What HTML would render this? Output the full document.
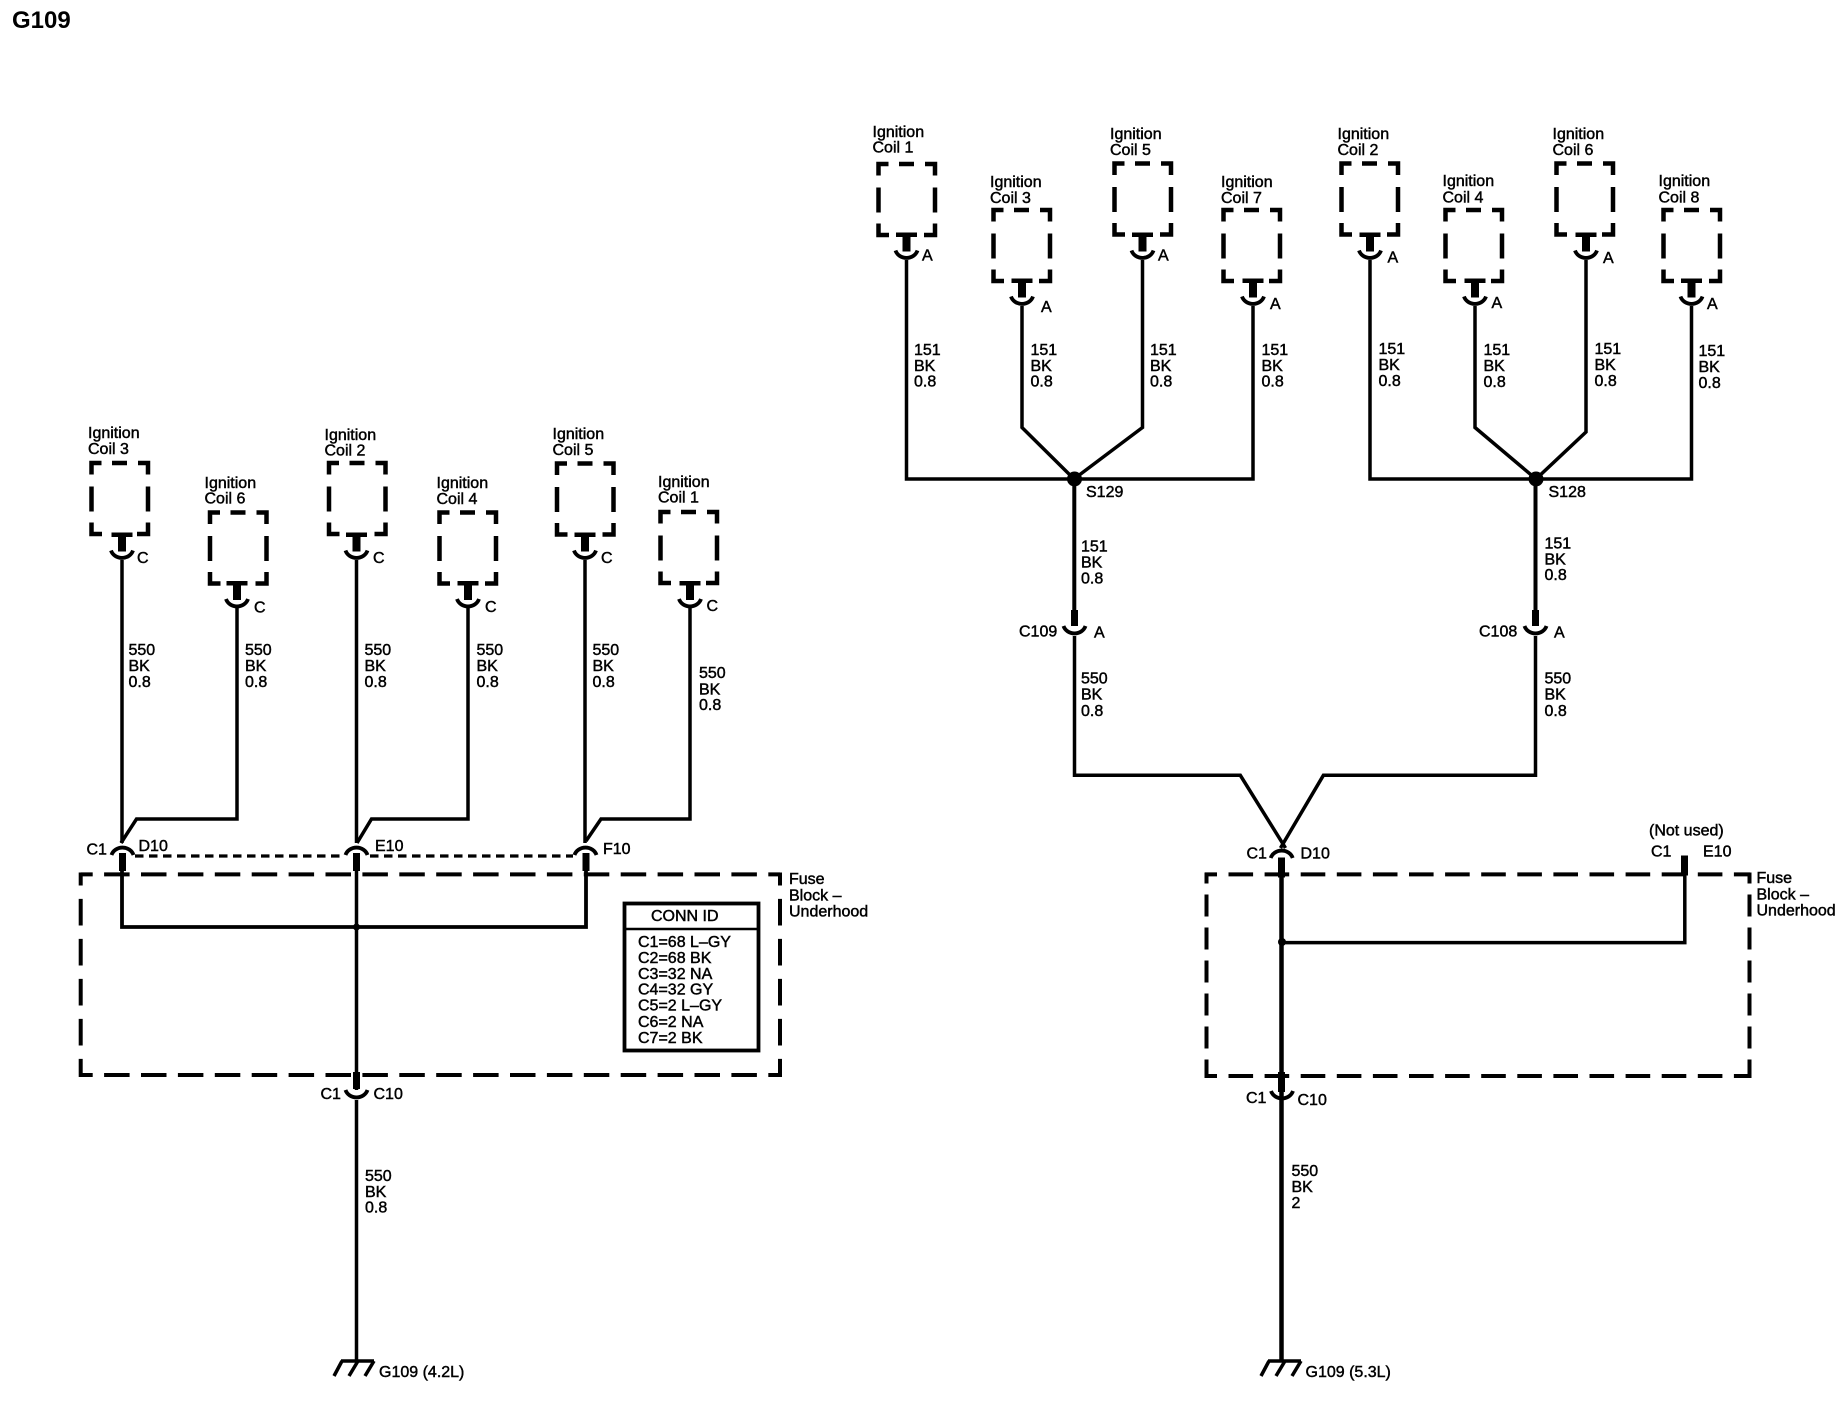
<!DOCTYPE html>
<html lang="en">
<head>
<meta charset="utf-8">
<title>G109</title>
<style>
html,body{margin:0;padding:0;background:#fff}
svg{display:block}
text{font-family:"Liberation Sans",Arial,sans-serif;font-size:16px;fill:#000;stroke:#000;stroke-width:.45}
.w{fill:none;stroke:#000;stroke-width:3.5;stroke-linejoin:miter}
</style>
</head>
<body>
<svg xmlns="http://www.w3.org/2000/svg" width="1844" height="1408" viewBox="0 0 1844 1408">
<defs>
<g id="b"><path d="M1.5 13V1.500H11.500M22 1.500H37M48 1.500H58V13M1.5 25V50M58 25V50M1.5 61V72.500H12M47 72.500H58V61" fill="none" stroke="#000" stroke-width="4.500"/></g>
<g id="c"><rect x="-10.500" y="0" width="21" height="4.500"/><rect x="-4" y="0" width="8" height="19"/><path d="M-11 18A11.500 10.500 0 0 0 11 18" fill="none" stroke="#000" stroke-width="3.800"/></g>
<g id="u"><path d="M-11 0A11.500 10.500 0 0 1 11 0" fill="none" stroke="#000" stroke-width="3.800"/></g>
<g id="d"><path d="M-11 0A11.500 10.500 0 0 0 11 0" fill="none" stroke="#000" stroke-width="3.800"/></g>
<g id="g"><path d="M-16 0H17M-15 0L-23 15M1 0L-8 15M17 0L8 15" fill="none" stroke="#000" stroke-width="3.500"/></g>
</defs>

<text x="12" y="28" style="font-size:24px;font-weight:bold;stroke:none">G109</text>

<!-- LEFT: coils -->
<use href="#b" x="90" y="461.500"/><use href="#c" x="122" y="532.500"/>
<use href="#b" x="208.500" y="511"/><use href="#c" x="237" y="581"/>
<use href="#b" x="327.500" y="461.500"/><use href="#c" x="356.500" y="532.500"/>
<use href="#b" x="438" y="511"/><use href="#c" x="468" y="581"/>
<use href="#b" x="555.500" y="462"/><use href="#c" x="585" y="532.500"/>
<use href="#b" x="659" y="510.500"/><use href="#c" x="690" y="581"/>

<!-- LEFT: wires -->
<path class="w" d="M122 560V843"/>
<path class="w" d="M356.500 560V843"/>
<path class="w" d="M585 560V843"/>
<path class="w" d="M237 608V819H136.500L121 843"/>
<path class="w" d="M468 608V819H371.500L357 843"/>
<path class="w" d="M690 608V819H601L586 841"/>
<use href="#u" x="122.500" y="855"/><use href="#u" x="356.500" y="855"/><use href="#u" x="585.500" y="855"/>
<rect x="119" y="853" width="7" height="18"/><rect x="353" y="853" width="7" height="18"/><rect x="582.500" y="853" width="7" height="18"/>
<path d="M135 856H345M370 856H573" fill="none" stroke="#000" stroke-width="3.200" stroke-dasharray="8.500 5.500"/>
<path class="w" d="M122 870V927H586V870" style="stroke-width:3.800"/>
<path class="w" d="M356.500 870V1090"/>
<circle cx="356.500" cy="927" r="3.500"/>
<rect x="353" y="1072" width="7" height="17"/>
<use href="#d" x="356.500" y="1090"/>
<path class="w" d="M356.500 1100V1361"/>
<use href="#g" x="357" y="1361"/>

<!-- LEFT: fuse block -->
<path d="M80.700 874.400H780" fill="none" stroke="#000" stroke-width="4" stroke-dasharray="25.500 11.400" stroke-dashoffset="13.500"/>
<path d="M80.700 1075H781" fill="none" stroke="#000" stroke-width="4" stroke-dasharray="25.500 11.400" stroke-dashoffset="13.500"/>
<path d="M80.700 872.500V1077" fill="none" stroke="#000" stroke-width="4" stroke-dasharray="26.600 13.400" stroke-dashoffset="13.600"/>
<path d="M780 872.500V1077" fill="none" stroke="#000" stroke-width="4" stroke-dasharray="26.600 13.400" stroke-dashoffset="13.600"/>

<!-- LEFT: conn id -->
<rect x="624.500" y="903.500" width="134" height="147" fill="#fff" stroke="#000" stroke-width="3.800"/>
<path d="M624.500 929H758.500" stroke="#000" stroke-width="2.500"/>
<text x="651" y="921">CONN ID</text>
<text x="638" y="947">C1=68 L–GY</text>
<text x="638" y="963">C2=68 BK</text>
<text x="638" y="979">C3=32 NA</text>
<text x="638" y="994.500">C4=32 GY</text>
<text x="638" y="1010.500">C5=2 L–GY</text>
<text x="638" y="1027">C6=2 NA</text>
<text x="638" y="1043">C7=2 BK</text>

<!-- LEFT: labels -->
<text x="88" y="438">Ignition</text><text x="88" y="454">Coil 3</text><text x="137" y="563">C</text>
<text x="204.500" y="488">Ignition</text><text x="204.500" y="503.500">Coil 6</text><text x="254" y="612.500">C</text>
<text x="324.500" y="440">Ignition</text><text x="324.500" y="455.500">Coil 2</text><text x="373" y="563">C</text>
<text x="436.500" y="488">Ignition</text><text x="436.500" y="504">Coil 4</text><text x="485" y="612">C</text>
<text x="552.500" y="439">Ignition</text><text x="552.500" y="455">Coil 5</text><text x="601" y="563">C</text>
<text x="658" y="487">Ignition</text><text x="658" y="502.500">Coil 1</text><text x="706.500" y="611">C</text>

<text x="128.500" y="655">550</text><text x="128.500" y="671">BK</text><text x="128.500" y="687">0.8</text>
<text x="245" y="655">550</text><text x="245" y="671">BK</text><text x="245" y="687">0.8</text>
<text x="364.500" y="655">550</text><text x="364.500" y="671">BK</text><text x="364.500" y="687">0.8</text>
<text x="476.500" y="655">550</text><text x="476.500" y="671">BK</text><text x="476.500" y="687">0.8</text>
<text x="592.500" y="655">550</text><text x="592.500" y="671">BK</text><text x="592.500" y="687">0.8</text>
<text x="699" y="678">550</text><text x="699" y="694.500">BK</text><text x="699" y="710">0.8</text>

<text x="86.500" y="854.500">C1</text><text x="138.500" y="851">D10</text><text x="375" y="851">E10</text><text x="603" y="854">F10</text>
<text x="789" y="884">Fuse</text><text x="789" y="900.500">Block –</text><text x="789" y="916.500">Underhood</text>
<text x="320.500" y="1099">C1</text><text x="373.500" y="1099">C10</text>
<text x="365" y="1181">550</text><text x="365" y="1197">BK</text><text x="365" y="1212.500">0.8</text>
<text x="379" y="1377">G109 (4.2L)</text>

<!-- RIGHT: coils -->
<use href="#b" x="877" y="162.500"/><use href="#c" x="906.500" y="232.500"/>
<use href="#b" x="992" y="208.500"/><use href="#c" x="1022" y="278.500"/>
<use href="#b" x="1113" y="162"/><use href="#c" x="1142.500" y="232.500"/>
<use href="#b" x="1222" y="208.500"/><use href="#c" x="1253" y="278.500"/>
<use href="#b" x="1340" y="162"/><use href="#c" x="1370" y="232.500"/>
<use href="#b" x="1444" y="208.500"/><use href="#c" x="1475" y="278.500"/>
<use href="#b" x="1555" y="162"/><use href="#c" x="1586" y="232.500"/>
<use href="#b" x="1662" y="208.500"/><use href="#c" x="1691.500" y="278.500"/>

<!-- RIGHT: wires -->
<path class="w" d="M906.500 260V479H1253V306"/>
<path class="w" d="M1022 306V427.500L1074 479L1142.500 427.500V260"/>
<circle cx="1074.500" cy="479" r="7.500"/>
<path class="w" d="M1370 260V479H1691.500V306"/>
<path class="w" d="M1475 306V427.500L1536 479L1586 432V260"/>
<circle cx="1536" cy="479" r="7.500"/>
<path class="w" d="M1074.300 479V612" style="stroke-width:4"/>
<path class="w" d="M1535.500 479V612" style="stroke-width:4"/>
<rect x="1071" y="610" width="7" height="16"/>
<rect x="1532" y="610" width="7" height="16"/>
<use href="#d" x="1074.500" y="626"/><use href="#d" x="1535.500" y="626"/>
<path class="w" d="M1074.500 636V775.300H1240.300L1285.500 848"/>
<path class="w" d="M1535.500 636V775.300H1323.400L1280.500 848"/>
<use href="#u" x="1281.700" y="858"/>
<rect x="1278" y="857.500" width="7" height="20"/>
<path class="w" d="M1281.500 875V1361" style="stroke-width:4.500"/>
<rect x="1278" y="1072" width="7" height="20"/>
<use href="#d" x="1282" y="1091"/>
<rect x="1681" y="855.500" width="7" height="20"/>
<path class="w" d="M1281.500 942.600H1684.800V870"/>
<circle cx="1282" cy="942" r="4"/>
<use href="#g" x="1284" y="1361"/>

<!-- RIGHT: fuse block -->
<path d="M1205 874.400H1750" fill="none" stroke="#000" stroke-width="4" stroke-dasharray="24.600 11.500" stroke-dashoffset="12.600"/>
<path d="M1205 1076H1751" fill="none" stroke="#000" stroke-width="4" stroke-dasharray="24.600 11.500" stroke-dashoffset="12.600"/>
<path d="M1206.500 872.500V1078" fill="none" stroke="#000" stroke-width="4" stroke-dasharray="22 11" stroke-dashoffset="11"/>
<path d="M1749.500 872.500V1078" fill="none" stroke="#000" stroke-width="4" stroke-dasharray="22 11" stroke-dashoffset="11"/>

<!-- RIGHT: labels -->
<text x="872.500" y="137">Ignition</text><text x="872.500" y="152.500">Coil 1</text><text x="922" y="260.500">A</text>
<text x="990" y="187">Ignition</text><text x="990" y="203">Coil 3</text><text x="1041" y="312">A</text>
<text x="1110" y="139">Ignition</text><text x="1110" y="155">Coil 5</text><text x="1158" y="260.500">A</text>
<text x="1221" y="187">Ignition</text><text x="1221" y="203">Coil 7</text><text x="1270" y="309">A</text>
<text x="1337.500" y="139">Ignition</text><text x="1337.500" y="155">Coil 2</text><text x="1387.500" y="262.500">A</text>
<text x="1442.500" y="186">Ignition</text><text x="1442.500" y="202.500">Coil 4</text><text x="1491.500" y="308">A</text>
<text x="1552.500" y="139">Ignition</text><text x="1552.500" y="155">Coil 6</text><text x="1603" y="263">A</text>
<text x="1658.500" y="186">Ignition</text><text x="1658.500" y="202.500">Coil 8</text><text x="1707" y="309">A</text>

<text x="914" y="355">151</text><text x="914" y="371">BK</text><text x="914" y="386.500">0.8</text>
<text x="1030.500" y="355">151</text><text x="1030.500" y="371">BK</text><text x="1030.500" y="386.500">0.8</text>
<text x="1150" y="355">151</text><text x="1150" y="371">BK</text><text x="1150" y="386.500">0.8</text>
<text x="1261.500" y="355">151</text><text x="1261.500" y="371">BK</text><text x="1261.500" y="386.500">0.8</text>
<text x="1378.500" y="354">151</text><text x="1378.500" y="370">BK</text><text x="1378.500" y="386">0.8</text>
<text x="1483.500" y="355">151</text><text x="1483.500" y="371">BK</text><text x="1483.500" y="387">0.8</text>
<text x="1594.500" y="354">151</text><text x="1594.500" y="370">BK</text><text x="1594.500" y="386">0.8</text>
<text x="1698.500" y="356">151</text><text x="1698.500" y="372">BK</text><text x="1698.500" y="388">0.8</text>

<text x="1086" y="497">S129</text><text x="1548.500" y="497">S128</text>
<text x="1081" y="551.500">151</text><text x="1081" y="567.500">BK</text><text x="1081" y="583.500">0.8</text>
<text x="1544.500" y="548.500">151</text><text x="1544.500" y="564.500">BK</text><text x="1544.500" y="580">0.8</text>
<text x="1019" y="636.500">C109</text><text x="1094" y="637.500">A</text>
<text x="1479" y="636.500">C108</text><text x="1554" y="637.500">A</text>
<text x="1081" y="683.500">550</text><text x="1081" y="699.500">BK</text><text x="1081" y="716">0.8</text>
<text x="1544.500" y="683.500">550</text><text x="1544.500" y="699.500">BK</text><text x="1544.500" y="716">0.8</text>

<text x="1246.500" y="858.500">C1</text><text x="1300.500" y="858.500">D10</text>
<text x="1649" y="835.500">(Not used)</text><text x="1651" y="856.500">C1</text><text x="1703" y="856.500">E10</text>
<text x="1756.500" y="883">Fuse</text><text x="1756.500" y="899.500">Block –</text><text x="1756.500" y="915.500">Underhood</text>
<text x="1246" y="1103">C1</text><text x="1297.500" y="1105">C10</text>
<text x="1291.500" y="1176">550</text><text x="1291.500" y="1192">BK</text><text x="1291.500" y="1208">2</text>
<text x="1305.500" y="1377">G109 (5.3L)</text>
</svg>
</body>
</html>
